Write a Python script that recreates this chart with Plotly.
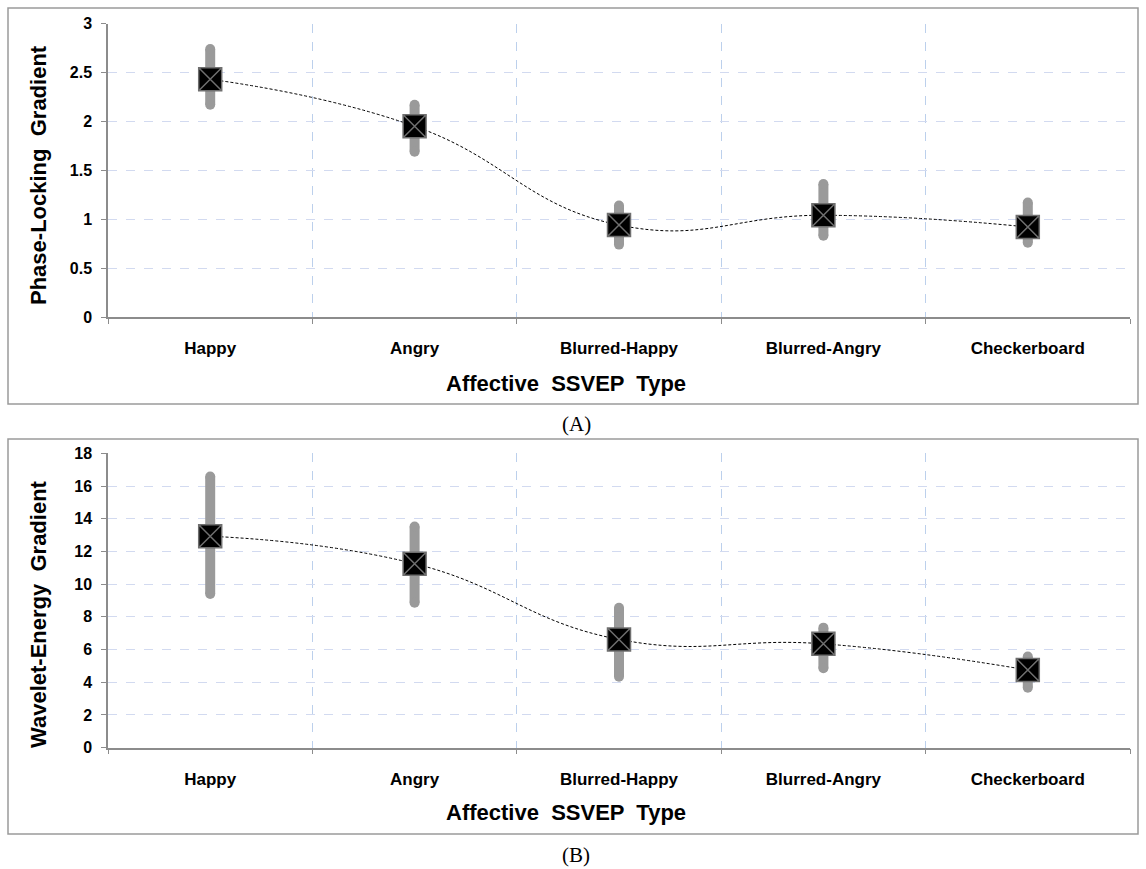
import plotly.graph_objects as go

categories = ["Happy", "Angry", "Blurred-Happy", "Blurred-Angry", "Checkerboard"]

# Panel A: Phase-Locking Gradient
plg_mean = [2.43, 1.95, 0.94, 1.04, 0.92]
plg_low = [2.17, 1.69, 0.74, 0.83, 0.76]
plg_high = [2.74, 2.17, 1.14, 1.36, 1.17]

# Panel B: Wavelet-Energy Gradient
weg_mean = [12.93, 11.25, 6.62, 6.35, 4.75]
weg_low = [9.40, 8.87, 4.34, 4.86, 3.67]
weg_high = [16.58, 13.52, 8.56, 7.34, 5.57]

y_ticks_a = [0, 0.5, 1, 1.5, 2, 2.5, 3]
y_ticks_b = [0, 2, 4, 6, 8, 10, 12, 14, 16, 18]

W, H = 1146, 869
BAR_GRAY = "#9a9a9a"
AXIS_GRAY = "#8c8c8c"
HGRID = "#d2daf0"
VGRID = "#bcd0ec"


def px_x(p):
    return p / W


def px_y(p):
    return (H - p) / H


fig = go.Figure()


def add_panel(xa, ya, mean, low, high):
    bx, by = [], []
    ex, ey = [], []
    for c, lo, hi in zip(categories, low, high):
        bx += [c, c, None]
        by += [lo, hi, None]
        ex += [c, c]
        ey += [lo, hi]
    fig.add_trace(go.Scatter(x=bx, y=by, mode="lines", xaxis=xa, yaxis=ya,
                             line=dict(color=BAR_GRAY, width=10),
                             showlegend=False, hoverinfo="skip"))
    fig.add_trace(go.Scatter(x=ex, y=ey, mode="markers", xaxis=xa, yaxis=ya,
                             marker=dict(color=BAR_GRAY, size=10, symbol="circle",
                                         line=dict(width=0)),
                             showlegend=False, hoverinfo="skip"))
    fig.add_trace(go.Scatter(x=categories, y=mean, mode="lines", xaxis=xa, yaxis=ya,
                             line=dict(color="black", width=1, shape="spline",
                                       smoothing=1.3, dash="3px,2px"),
                             showlegend=False, hoverinfo="skip"))
    fig.add_trace(go.Scatter(x=categories, y=mean, mode="markers", xaxis=xa, yaxis=ya,
                             marker=dict(color="black", size=23, symbol="square-x",
                                         line=dict(color="#6f6f6f", width=1.5)),
                             showlegend=False))


add_panel("x", "y", plg_mean, plg_low, plg_high)
add_panel("x2", "y2", weg_mean, weg_low, weg_high)

xdom = [px_x(108), px_x(1130)]
tickfont_x = dict(family="Liberation Sans, Arial", size=17, color="black", weight="bold")
tickfont_y = dict(family="Liberation Sans, Arial", size=16, color="black", weight="bold")


def xaxis_cfg(anchor):
    return dict(domain=xdom, anchor=anchor, type="category",
                categoryorder="array", categoryarray=categories,
                range=[-0.5, 4.5], tickson="boundaries", automargin=False,
                showline=True, linecolor=AXIS_GRAY, linewidth=1.5,
                ticks="outside", ticklen=5, tickcolor=AXIS_GRAY,
                showgrid=True, gridcolor=VGRID, griddash="dash", gridwidth=1,
                tickfont=tickfont_x, ticklabelstandoff=15, zeroline=False,
                fixedrange=True)


def yaxis_cfg(anchor, dom, rng, ticks):
    return dict(domain=dom, anchor=anchor, range=rng, tickvals=ticks,
                automargin=False,
                showline=True, linecolor=AXIS_GRAY, linewidth=1.5,
                ticks="outside", ticklen=5, tickcolor=AXIS_GRAY,
                showgrid=True, gridcolor=HGRID, griddash="dash", gridwidth=1,
                tickfont=tickfont_y, ticklabelstandoff=6, zeroline=False,
                fixedrange=True)


title_font = dict(family="Liberation Sans, Arial", size=22, color="black")

fig.update_layout(
    width=W, height=H, autosize=False,
    margin=dict(l=0, r=0, t=0, b=0, pad=0),
    paper_bgcolor="white", plot_bgcolor="white",
    xaxis=xaxis_cfg("y"),
    yaxis=yaxis_cfg("x", [px_y(317), px_y(23.5)], [0, 3], y_ticks_a),
    xaxis2=xaxis_cfg("y2"),
    yaxis2=yaxis_cfg("x2", [px_y(747.7), px_y(453.3)], [0, 18], y_ticks_b),
    shapes=[
        dict(type="rect", xref="paper", yref="paper",
             x0=px_x(8), x1=px_x(1138), y0=px_y(404), y1=px_y(8),
             line=dict(color="#9a9a9a", width=1.5), layer="below"),
        dict(type="rect", xref="paper", yref="paper",
             x0=px_x(8), x1=px_x(1138), y0=px_y(834), y1=px_y(439),
             line=dict(color="#9a9a9a", width=1.5), layer="below"),
    ],
    annotations=[
        dict(text="<b>Affective  SSVEP  Type</b>", xref="paper", yref="paper",
             x=px_x(566), y=px_y(383), showarrow=False, font=title_font,
             xanchor="center", yanchor="middle"),
        dict(text="<b>Affective  SSVEP  Type</b>", xref="paper", yref="paper",
             x=px_x(566), y=px_y(812), showarrow=False, font=title_font,
             xanchor="center", yanchor="middle"),
        dict(text="<b>Phase-Locking  Gradient</b>", xref="paper", yref="paper",
             x=px_x(38), y=px_y(175), showarrow=False, font=title_font,
             textangle=-90, xanchor="center", yanchor="middle"),
        dict(text="<b>Wavelet-Energy  Gradient</b>", xref="paper", yref="paper",
             x=px_x(38), y=px_y(614), showarrow=False, font=title_font,
             textangle=-90, xanchor="center", yanchor="middle"),
        dict(text="(A)", xref="paper", yref="paper",
             x=px_x(576), y=px_y(424), showarrow=False,
             font=dict(family="Liberation Serif, Times New Roman", size=21, color="black"),
             xanchor="center", yanchor="middle"),
        dict(text="(B)", xref="paper", yref="paper",
             x=px_x(576), y=px_y(855), showarrow=False,
             font=dict(family="Liberation Serif, Times New Roman", size=21, color="black"),
             xanchor="center", yanchor="middle"),
    ],
)

fig.write_html("out.html", config={"displayModeBar": False},
               post_script="document.body.style.margin='0px';"
                           "document.documentElement.style.overflow='hidden';")
